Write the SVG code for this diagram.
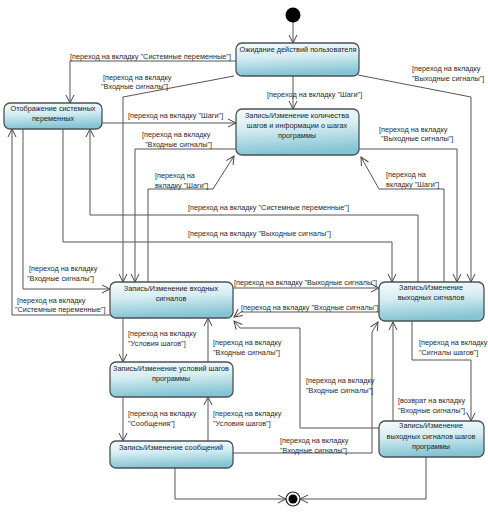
<svg xmlns="http://www.w3.org/2000/svg" width="488" height="512" viewBox="0 0 488 512">
<defs>
<linearGradient id="g" x1="0" y1="0" x2="0.15" y2="1">
<stop offset="0" stop-color="#f6fbfc"/>
<stop offset="0.45" stop-color="#d6edf2"/>
<stop offset="1" stop-color="#84c4d3"/>
</linearGradient>
<marker id="a" markerUnits="userSpaceOnUse" markerWidth="10" markerHeight="10" refX="8" refY="4" orient="auto" overflow="visible">
<path d="M0,0 L8,4 L0,8" fill="none" stroke="#444" stroke-width="1"/>
</marker>
<style>
.n rect{fill:url(#g);stroke:#4a5256;stroke-width:1.3}
.n text{font-family:"Liberation Sans",Arial,sans-serif;font-size:7.3px;fill:#1e1e1e;text-anchor:middle}
#edges polyline{fill:none;stroke:#555;stroke-width:1;marker-end:url(#a)}
#edges polyline.na{marker-end:none}
.l{font-family:"Liberation Sans",Arial,sans-serif;font-size:7.3px;fill:#2a2a2a}
</style>
</defs>
<rect width="488" height="512" fill="#fff"/>

<g id="edges">
<polyline points="293,22 293,43"/>
<polyline points="236,61 70,61 70,103"/>
<polyline points="234,76 123,97 123,282"/>
<polyline points="293,76 293,109"/>
<polyline points="358,75 471,97 471,282"/>
<polyline points="102,123 236,123"/>
<polyline points="236,149 135,149 135,282"/>
<polyline points="148,282 148,189 213,189 234,156"/>
<polyline points="444,282 444,189 379,189 361,157"/>
<polyline points="359,149 457,149 457,282"/>
<polyline points="418,282 418,215 90,215 90,129"/>
<polyline points="63,129 63,242 392,242 392,282"/>
<polyline points="23,129 23,289 110,289"/>
<polyline points="110,315 12,315 12,129"/>
<polyline points="233,288 379,288"/>
<polyline points="379,312 241,312 234,317"/>
<polyline points="379,428 300,428 300,328 240,328 234,321"/>
<polyline points="123,318 123,362"/>
<polyline points="208,362 208,318"/>
<polyline points="123,397 123,441"/>
<polyline points="208,441 208,397"/>
<polyline points="233,453 372,453 372,332 378,322"/>
<polyline points="393,421 393,322"/>
<polyline points="412,321 412,360 471,360 471,421"/>
<polyline points="175,468 175,499 286,499"/>
<polyline points="426,457 426,499 300,499"/>
</g>

<g id="labels">
<text class="l" x="70" y="58.5">[переход на вкладку "Системные переменные"]</text>
<text class="l" x="103" y="79.5">[переход на вкладку</text>
<text class="l" x="101" y="88.5">"Входные сигналы"]</text>
<text class="l" x="267" y="96.5">[переход на вкладку "Шаги"]</text>
<text class="l" x="412" y="70.5">[переход на вкладку</text>
<text class="l" x="412" y="81">"Выходные сигналы"]</text>
<text class="l" x="128" y="117.5">[переход на вкладку "Шаги"]</text>
<text class="l" x="142" y="136.5">[переход на вкладку</text>
<text class="l" x="145" y="146.5">"Входные сигналы"]</text>
<text class="l" x="155" y="177.5">[переход на</text>
<text class="l" x="155" y="187.5">вкладку "Шаги"]</text>
<text class="l" x="379" y="131.5">[переход на вкладку</text>
<text class="l" x="381" y="141">"Выходные сигналы"]</text>
<text class="l" x="386" y="176.5">[переход на</text>
<text class="l" x="386" y="186.5">вкладку "Шаги"]</text>
<text class="l" x="188" y="209.5">[переход на вкладку "Системные переменные"]</text>
<text class="l" x="188" y="235.5">[переход на вкладку "Выходные сигналы"]</text>
<text class="l" x="29" y="270.5">[переход на вкладку</text>
<text class="l" x="27" y="280.5">"Входные сигналы"]</text>
<text class="l" x="17" y="302.5">[переход на вкладку</text>
<text class="l" x="15" y="312">"Системные переменные"]</text>
<text class="l" x="234" y="284.5">[переход на вкладку "Выходные сигналы"]</text>
<text class="l" x="241" y="309.5">[переход на вкладку "Входные сигналы"]</text>
<text class="l" x="128" y="335.5">[переход на вкладку</text>
<text class="l" x="128" y="345.5">"Условия шагов"]</text>
<text class="l" x="213" y="344.5">[переход на вкладку</text>
<text class="l" x="213" y="354.5">"Входные сигналы"]</text>
<text class="l" x="306" y="382.5">[переход на вкладку</text>
<text class="l" x="306" y="392.5">"Входные сигналы"]</text>
<text class="l" x="419" y="344.5">[переход на вкладку</text>
<text class="l" x="419" y="354.5">"Сигналы шагов"]</text>
<text class="l" x="398" y="402.5">[возврат на вкладку</text>
<text class="l" x="398" y="412.5">"Входные сигналы"],</text>
<text class="l" x="128" y="415.5">[переход на вкладку</text>
<text class="l" x="128" y="425.5">"Сообщения"]</text>
<text class="l" x="213" y="415.5">[переход на вкладку</text>
<text class="l" x="213" y="425.5">"Условия шагов"]</text>
<text class="l" x="280" y="442.5">[переход на вкладку</text>
<text class="l" x="280" y="452.5">"Входные сигналы"]</text>
</g>

<g id="initial"><circle cx="293" cy="15" r="7.5" fill="#000"/></g>
<g id="final"><circle cx="293" cy="499" r="7" fill="#fff" stroke="#222" stroke-width="1.2"/><circle cx="293" cy="499" r="4.5" fill="#000"/></g>

<g id="wait" class="n"><rect x="236" y="43" width="123" height="33" rx="6"/><text x="298" y="52">Ожидание действий пользователя</text></g>
<g id="display" class="n"><rect x="4" y="103" width="98" height="26" rx="6"/><text x="53" y="110.5">Отображение системных</text><text x="53" y="120.5">переменных</text></g>
<g id="steps" class="n"><rect x="236" y="109" width="123" height="46" rx="6"/><text x="297" y="117.5">Запись/Изменение количества</text><text x="297" y="127.5">шагов и информации о шагах</text><text x="297" y="137.5">программы</text></g>
<g id="input" class="n"><rect x="110" y="282" width="123" height="36" rx="6"/><text x="171" y="290.5">Запись/Изменение входных</text><text x="171" y="301">сигналов</text></g>
<g id="output" class="n"><rect x="379" y="282" width="105" height="39" rx="6"/><text x="431" y="289.5">Запись/Изменение</text><text x="431" y="299.5">выходных сигналов</text></g>
<g id="conditions" class="n"><rect x="110" y="362" width="123" height="35" rx="6"/><text x="171" y="370.5">Запись/Изменение условий шагов</text><text x="171" y="380.5">программы</text></g>
<g id="messages" class="n"><rect x="110" y="441" width="123" height="27" rx="6"/><text x="171" y="449.5">Запись/Изменение сообщений</text></g>
<g id="outsteps" class="n"><rect x="379" y="421" width="105" height="36" rx="6"/><text x="431" y="428">Запись/Изменение</text><text x="431" y="438.5">выходных сигналов шагов</text><text x="431" y="448.5">программы</text></g>
</svg>
